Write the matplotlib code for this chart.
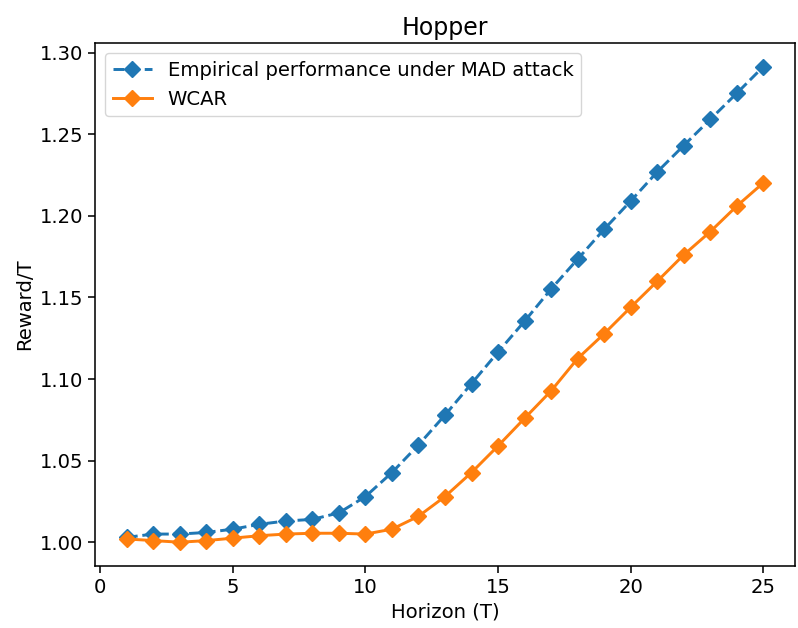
import matplotlib
matplotlib.use("Agg")
import matplotlib.pyplot as plt

horizon = list(range(1, 26))
empirical_mad = [1.003, 1.005, 1.005, 1.006, 1.008, 1.011, 1.013, 1.014, 1.018,
                 1.028, 1.0427, 1.0596, 1.0779, 1.0972, 1.1165, 1.1354, 1.1551,
                 1.1734, 1.1917, 1.209, 1.2268, 1.243, 1.259, 1.275, 1.2913]
wcar = [1.002, 1.001, 1.000, 1.001, 1.0025, 1.004, 1.005, 1.0055, 1.0055,
        1.005, 1.008, 1.0159, 1.028, 1.0427, 1.059, 1.0759, 1.0927, 1.1125,
        1.1277, 1.1439, 1.1598, 1.176, 1.1902, 1.2059, 1.2201]
yticks = [1.00, 1.05, 1.10, 1.15, 1.20, 1.25, 1.30]
xticks = [0, 5, 10, 15, 20, 25]

s = 1.415
fig = plt.figure(figsize=(7.98, 6.28), dpi=100)
ax = fig.add_axes([95/798, 1 - 566/628, (795 - 95)/798, (566 - 43)/628])

ax.plot(horizon, empirical_mad, linestyle='--', marker='D', color='#1f77b4',
        linewidth=1.5*s, markersize=6*s, label='Empirical performance under MAD attack')
ax.plot(horizon, wcar, linestyle='-', marker='D', color='#ff7f0e',
        linewidth=1.5*s, markersize=6*s, label='WCAR')

ax.set_xticks(xticks)
ax.set_yticks(yticks)
ax.set_yticklabels([f"{v:.2f}" for v in yticks])
ax.tick_params(labelsize=10*s, width=0.8*s, length=3.5*s)
for sp in ax.spines.values():
    sp.set_linewidth(0.8*s)
ax.set_title('Hopper', fontsize=12*s)
ax.set_xlabel('Horizon (T)', fontsize=10*s)
ax.set_ylabel('Reward/T', fontsize=10*s)
ax.legend(loc='upper left', fontsize=10*s)

fig.savefig('out.png', dpi=100)
